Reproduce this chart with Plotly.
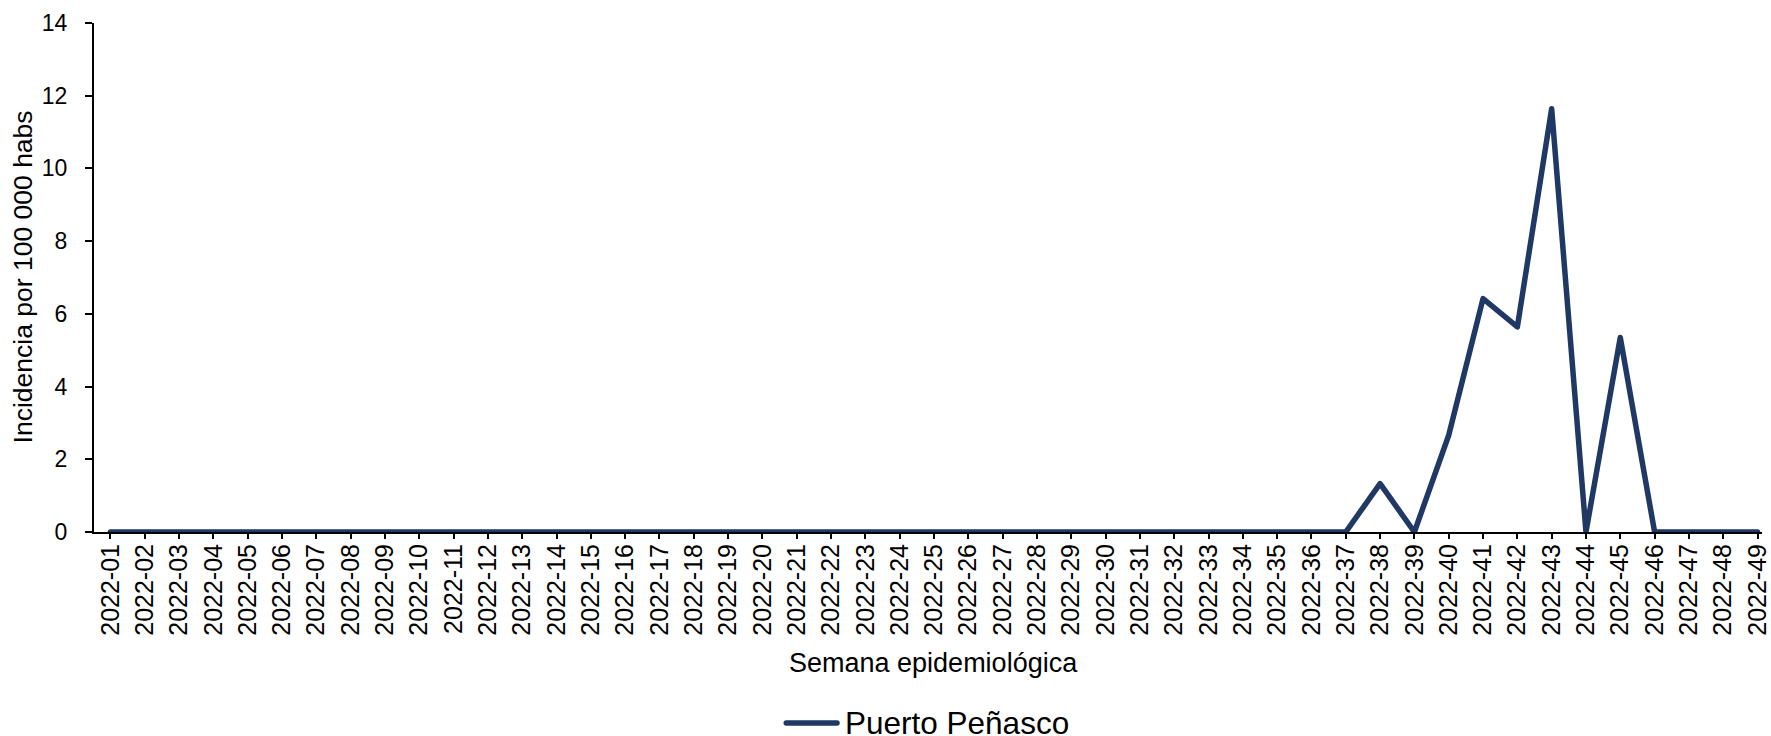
import plotly.graph_objects as go

semanas = [f"2022-{i:02d}" for i in range(1, 50)]
incidencia = [0, 0, 0, 0, 0, 0, 0, 0, 0, 0,
              0, 0, 0, 0, 0, 0, 0, 0, 0, 0,
              0, 0, 0, 0, 0, 0, 0, 0, 0, 0,
              0, 0, 0, 0, 0, 0, 0, 1.33, 0, 2.66,
              6.42, 5.64, 11.64, 0, 5.35, 0, 0, 0, 0]
serie = "Puerto Peñasco"
y_ticks = [0, 2, 4, 6, 8, 10, 12, 14]

COLOR = "#1F3864"
FONT = "Arial, Liberation Sans, sans-serif"
W, H = 1771, 736
L, R, T, B = 94, 0, 23, 204
PW, PH = W - L - R, H - T - B

def px(x):
    return (x - L) / PW

def py(y):
    return (H - B - y) / PH

fig = go.Figure()
fig.add_trace(go.Scatter(
    x=semanas, y=incidencia, mode="lines", name=serie,
    line=dict(color=COLOR, width=5.5), cliponaxis=False, showlegend=False,
))

fig.update_layout(
    width=W, height=H,
    margin=dict(l=L, r=R, t=T, b=B, pad=0),
    paper_bgcolor="white", plot_bgcolor="white",
    font=dict(family=FONT, color="black"),
    xaxis=dict(
        type="category", range=[-0.48, 48.13],
        showline=True, linecolor="black", linewidth=2,
        ticks="outside", ticklen=5, tickwidth=2, tickcolor="black",
        tickangle=-90, tickfont=dict(size=25, family=FONT, color="black"),
        showgrid=False, zeroline=False, layer="below traces",
        ticklabelstandoff=-5,
    ),
    yaxis=dict(
        range=[0, 14], tickvals=y_ticks,
        showline=True, linecolor="black", linewidth=2,
        ticks="outside", ticklen=7, tickwidth=2, tickcolor="black",
        tickfont=dict(size=23, family=FONT, color="black"),
        showgrid=False, zeroline=False, layer="below traces",
        ticklabelstandoff=13,
    ),
    annotations=[
        dict(text="Semana epidemiológica", xref="paper", yref="paper",
             x=px(938), y=py(663), xanchor="center", yanchor="middle",
             showarrow=False, font=dict(size=27, family=FONT, color="black")),
        dict(text="Incidencia por 100 000 habs", xref="paper", yref="paper",
             x=px(23), y=py(277), xanchor="center", yanchor="middle",
             textangle=-90, showarrow=False,
             font=dict(size=26.5, family=FONT, color="black")),
        dict(text=serie, xref="paper", yref="paper",
             x=px(847), y=py(723), xanchor="left", yanchor="middle",
             showarrow=False, font=dict(size=31.5, family=FONT, color="black")),
    ],
    shapes=[
        dict(type="line", xref="paper", yref="paper",
             x0=px(790), x1=px(841), y0=py(723), y1=py(723),
             line=dict(color=COLOR, width=5.5)),
    ],
)

post = """
document.body.style.margin='0';
document.body.style.padding='0';
document.querySelectorAll('.scatterlayer path.js-line').forEach(function(p){
  p.style.strokeLinejoin='round'; p.style.strokeLinecap='round';
});
document.querySelectorAll('.shapelayer path').forEach(function(p){
  p.style.strokeLinecap='round';
});
"""
fig.write_html("out.html", post_script=post, config={"displayModeBar": False})
